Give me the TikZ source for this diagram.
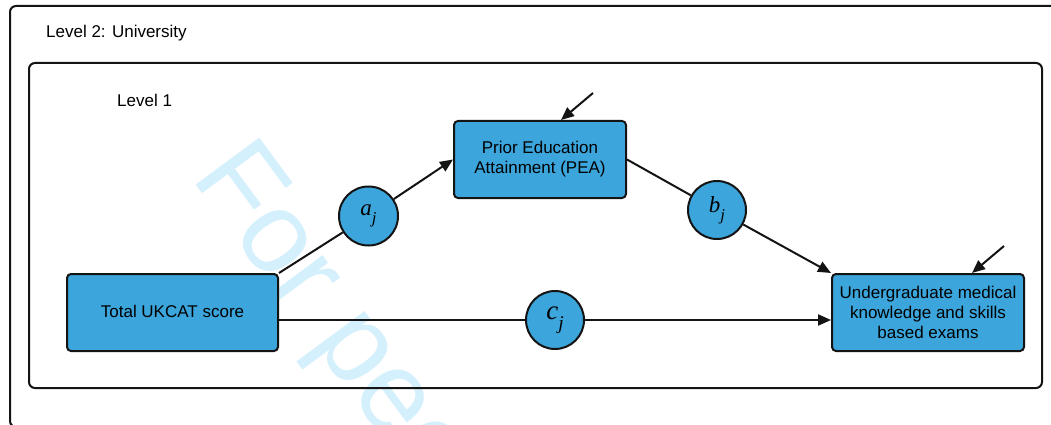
\documentclass[tikz,border=0pt]{standalone}
\usepackage{fontspec}
\setmainfont{Liberation Sans}
\newfontfamily\mathserif{Liberation Serif}
\usetikzlibrary{arrows.meta}
\definecolor{boxblue}{RGB}{59,165,220}
\definecolor{wmark}{RGB}{212,240,252}
\definecolor{edge}{RGB}{20,20,20}
\tikzset{
  frame/.style={draw=edge, line width=2pt, rounded corners=6pt},
  bluebox/.style={draw=edge, fill=boxblue, line width=2pt, rounded corners=4pt,
    align=center, inner sep=0pt, font=\fontsize{17}{20}\selectfont},
  coef/.style={circle, draw=edge, fill=boxblue, line width=2pt, inner sep=0pt},
  conn/.style={draw=edge, line width=2pt},
  arr/.style={conn, -{Triangle[length=13pt,width=11pt]}},
  lvl/.style={anchor=west, inner sep=0pt, font=\fontsize{17}{20}\selectfont},
}
\newcommand{\coeflabel}[3]{{\fontsize{#3}{#3}\mathserif\itshape #1\raisebox{-0.35em}{\fontsize{0.72\dimexpr#3pt\relax}{1}\selectfont #2}}}
\begin{document}
\begin{tikzpicture}[x=1pt, y={(0pt,-1pt)}]
\useasboundingbox (0,0) rectangle (1051,425);
\clip (0,0) rectangle (1051,425);
\fill[white] (0,0) rectangle (1051,425);
% watermark
\node[wmark, rotate=-53.5, anchor=base west, inner sep=0pt,
  font=\fontsize{115}{120}\selectfont] (wm) at (190,177) {For peer review};
% frames
\draw[frame] (10,6) rectangle (1065,427);
\draw[frame] (29,63) rectangle (1042,388);
\node[lvl] (lvl2) at (46,33) {Level 2: University};
\node[lvl] (lvl1) at (117,100) {Level 1};
% boxes
\node[bluebox, minimum width=211pt, minimum height=77pt] (ukcat) at (172.5,312.5) {\raisebox{2pt}{Total UKCAT score}};
\node[bluebox, minimum width=172pt, minimum height=77pt] (pea) at (540,159.5) {Prior Education\\Attainment (PEA)};
\node[bluebox, minimum width=192pt, minimum height=77pt] (ug) at (928,312.5) {Undergraduate medical\\knowledge and skills\\based exams};
% coefficient circles
\node[coef, minimum size=59pt] (aj) at (368.5,216) {\coeflabel{a}{j}{23}};
\node[coef, minimum size=58pt] (bj) at (717,210) {\coeflabel{b}{j}{23}};
\node[coef, minimum size=58pt] (cj) at (555,320) {\coeflabel{c}{j}{27}};
% connectors
\draw[conn] (ukcat.north east) -- (aj);
\draw[arr] (aj) -- (pea.west);
\draw[conn] (pea.east) -- (bj);
\draw[arr] (bj) -- (ug.north west);
\draw[conn] (ukcat.east |- cj) -- (cj);
\draw[arr] (cj) -- (ug.west |- cj);
% residual arrows
\coordinate (e1) at (593,93);
\coordinate (e2) at (1004,246);
\draw[arr] (e1) -- ([xshift=21pt]pea.north);
\draw[arr] (e2) -- ([xshift=44pt]ug.north);
\end{tikzpicture}
\end{document}
